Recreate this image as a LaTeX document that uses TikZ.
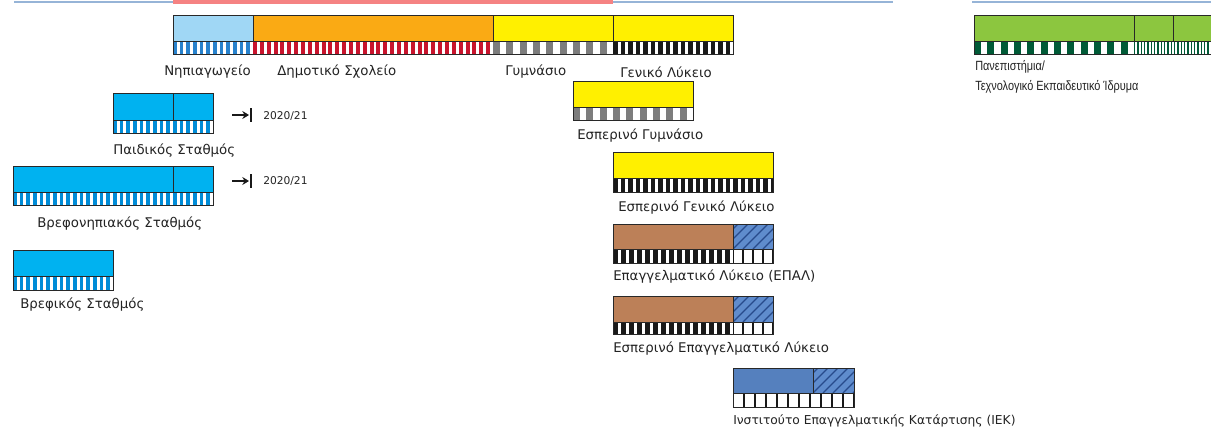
\documentclass[tikz,border=0pt]{standalone}
\usepackage{fontspec}
\setmainfont[FakeStretch=0.82]{Liberation Sans}
\newfontfamily\widefont{DejaVu Sans}
\usetikzlibrary{arrows.meta}
\definecolor{nipfill}{RGB}{160,215,245}
\definecolor{nipstripe}{RGB}{40,130,205}
\definecolor{orangefill}{RGB}{250,170,20}
\definecolor{redstripe}{RGB}{200,20,45}
\definecolor{yel}{RGB}{255,240,0}
\definecolor{greystripe}{RGB}{125,125,125}
\definecolor{blk}{RGB}{25,25,25}
\definecolor{sky}{RGB}{0,178,240}
\definecolor{skystripe}{RGB}{0,140,215}
\definecolor{grn}{RGB}{140,198,63}
\definecolor{dgrn}{RGB}{0,90,55}
\definecolor{brownfill}{RGB}{188,128,88}
\definecolor{hatchbg}{RGB}{95,140,205}
\definecolor{hatchln}{RGB}{40,75,140}
\definecolor{iekfill}{RGB}{85,128,190}
\definecolor{boxline}{RGB}{40,40,40}
\definecolor{txt}{RGB}{35,35,35}
\definecolor{pinkline}{RGB}{245,130,130}
\definecolor{blueline}{RGB}{150,180,215}
% stripes: x0 x1 ytop ybot period barwidth colour
\newcommand\stripebar[7]{%
  \begin{scope}
    \clip (#1,#3) rectangle (#2,#4);
    \fill[white] (#1,#3) rectangle (#2,#4);
    \pgfmathtruncatemacro\nn{(#2-#1)/#5+1}
    \foreach \i in {0,...,\nn} {\fill[#7] ({#1+\i*#5},#3) rectangle ({#1+\i*#5+#6},#4);}
  \end{scope}}
% cells: x0 x1 ytop ybot period
\newcommand\cellbar[5]{%
  \begin{scope}
    \clip (#1,#3) rectangle (#2,#4);
    \fill[white] (#1,#3) rectangle (#2,#4);
    \pgfmathtruncatemacro\nn{(#2-#1)/#5+1}
    \foreach \i in {0,...,\nn} {\draw[blk, line width=0.9pt] ({#1+\i*#5},#3) -- ({#1+\i*#5},#4);}
  \end{scope}}
% hatch: x0 x1 ytop ybot
\newcommand\hatchbox[4]{%
  \begin{scope}
    \clip (#1,#3) rectangle (#2,#4);
    \fill[hatchbg] (#1,#3) rectangle (#2,#4);
    \foreach \i in {-3,...,6} {\draw[hatchln, line width=1pt] ({#1+\i*10},#4) -- ++(26,-26);}
  \end{scope}}
\begin{document}
\begin{tikzpicture}[x=0.75pt,y=-0.75pt,
  lbl/.style={anchor=west, inner sep=0pt, font=\widefont\fontsize{10}{12}\selectfont, text=txt},
  unilbl/.style={anchor=west, inner sep=0pt, font=\fontsize{10}{12}\selectfont, text=txt},
  yr/.style={anchor=west, inner sep=0pt, font=\widefont\fontsize{8}{9}\selectfont, text=txt},
  box/.style={draw=boxline, line width=0.75pt},
  divline/.style={draw=boxline, line width=0.75pt}]
\useasboundingbox (0,0) rectangle (1211,430);
\fill[white] (0,0) rectangle (1211,430);
% top lines
\coordinate (l1a) at (14,2); \coordinate (l1b) at (173,2);
\coordinate (l2b) at (613,2); \coordinate (l3b) at (893,2);
\coordinate (l4a) at (972,2); \coordinate (l4b) at (1211,2);
\draw[blueline, line width=1.6pt] (l1a) -- (l1b);
\draw[pinkline, line width=3.2pt] (l1b) -- (l2b);
\draw[blueline, line width=1.6pt] (l2b) -- (l3b);
\draw[blueline, line width=1.6pt] (l4a) -- (l4b);
% main bar
\fill[nipfill] (173,15) rectangle (253,41);
\fill[orangefill] (253,15) rectangle (493,41);
\fill[yel] (493,15) rectangle (733,41);
\stripebar{173}{253}{41}{54}{6.667}{3.6}{nipstripe}
\stripebar{253}{493}{41}{54}{6.857}{4}{redstripe}
\stripebar{493}{613}{41}{54}{13.333}{7}{greystripe}
\stripebar{613}{733}{41}{54}{7.5}{4.5}{blk}
\draw[box] (173,15) rectangle (733,54);
\draw[divline] (173,41) -- (733,41);
\draw[divline] (253,15) -- (253,41);
\draw[divline] (493,15) -- (493,41);
\draw[divline] (613,15) -- (613,41);
\node[lbl] (nip) at (164,72) {Νηπιαγωγείο};
\node[lbl] (dim) at (277,72) {Δημοτικό Σχολείο};
\node[lbl] (gym) at (505,72) {Γυμνάσιο};
\node[lbl] (gel) at (620,72) {Γενικό Λύκειο};
% university
\fill[grn] (974,15) rectangle (1211,41);
\stripebar{974}{1134}{41}{54}{13.333}{7}{dgrn}
\stripebar{1134}{1211}{41}{54}{3.333}{1.4}{dgrn}
\draw[box] (1211,15) -- (974,15) -- (974,54) -- (1211,54);
\draw[divline] (974,41) -- (1211,41);
\draw[divline] (1134,15) -- (1134,41);
\draw[divline] (1173,15) -- (1173,41);
\node[unilbl] (uni1) at (975,67) {Πανεπιστήμια/};
\node[unilbl] (uni2) at (975,87) {Τεχνολογικό Εκπαιδευτικό Ίδρυμα};
% Paidikos Stathmos
\fill[sky] (113,93) rectangle (213,120);
\stripebar{113}{213}{120}{133}{6.667}{3.8}{skystripe}
\draw[box] (113,93) rectangle (213,133);
\draw[divline] (113,120) -- (213,120);
\draw[divline] (173,93) -- (173,120);
\node[lbl] (paid) at (113,151) {Παιδικός Σταθμός};
\coordinate (a1s) at (232,115); \coordinate (a1e) at (249,115);
\draw[blk, line width=1.6pt, -{Stealth[length=5pt,width=6pt]}] (a1s) -- (a1e);
\draw[blk, line width=1.6pt] (251,108) -- (251,122);
\node[yr] (yr1) at (263,116) {2020/21};
% Vrefonipiakos
\fill[sky] (13,166) rectangle (213,192);
\stripebar{13}{213}{192}{205}{6.667}{3.8}{skystripe}
\draw[box] (13,166) rectangle (213,205);
\draw[divline] (13,192) -- (213,192);
\draw[divline] (173,166) -- (173,192);
\node[lbl] (vref) at (37,224) {Βρεφονηπιακός Σταθμός};
\coordinate (a2s) at (232,181); \coordinate (a2e) at (249,181);
\draw[blk, line width=1.6pt, -{Stealth[length=5pt,width=6pt]}] (a2s) -- (a2e);
\draw[blk, line width=1.6pt] (251,174) -- (251,188);
\node[yr] (yr2) at (263,181) {2020/21};
% Vrefikos
\fill[sky] (13,250) rectangle (113,276);
\stripebar{13}{113}{276}{290}{6.667}{3.8}{skystripe}
\draw[box] (13,250) rectangle (113,290);
\draw[divline] (13,276) -- (113,276);
\node[lbl] (vrefik) at (20,305) {Βρεφικός Σταθμός};
% Esperino Gymnasio
\fill[yel] (573,81) rectangle (693,107);
\stripebar{573}{693}{107}{120}{13.333}{7}{greystripe}
\draw[box] (573,81) rectangle (693,120);
\draw[divline] (573,107) -- (693,107);
\node[lbl] (egym) at (577,136) {Εσπερινό Γυμνάσιο};
% Esperino Geniko Lykeio
\fill[yel] (613,152) rectangle (773,178);
\stripebar{613}{773}{178}{192}{7.5}{4.5}{blk}
\draw[box] (613,152) rectangle (773,192);
\draw[divline] (613,178) -- (773,178);
\node[lbl] (egel) at (618,208) {Εσπερινό Γενικό Λύκειο};
% EPAL
\fill[brownfill] (613,224) rectangle (733,249);
\hatchbox{733}{773}{224}{249}
\stripebar{613}{733}{249}{263}{8}{5}{blk}
\cellbar{733}{773}{249}{263}{10}
\draw[box] (613,224) rectangle (773,263);
\draw[divline] (613,249) -- (773,249);
\draw[divline] (733,224) -- (733,249);
\node[lbl] (epal) at (613,277) {Επαγγελματικό Λύκειο (ΕΠΑΛ)};
% Esperino EPAL
\fill[brownfill] (613,296) rectangle (733,322);
\hatchbox{733}{773}{296}{322}
\stripebar{613}{733}{322}{334}{8}{5}{blk}
\cellbar{733}{773}{322}{334}{10}
\draw[box] (613,296) rectangle (773,334);
\draw[divline] (613,322) -- (773,322);
\draw[divline] (733,296) -- (733,322);
\node[lbl] (eepal) at (613,349) {Εσπερινό Επαγγελματικό Λύκειο};
% IEK
\fill[iekfill] (733,368) rectangle (813,393);
\hatchbox{813}{854}{368}{393}
\cellbar{733}{854}{393}{407}{11}
\draw[box] (733,368) rectangle (854,407);
\draw[divline] (733,393) -- (854,393);
\draw[divline] (813,368) -- (813,393);
\node[lbl, font=\widefont\fontsize{9.2}{11}\selectfont] (iek) at (733,421) {Ινστιτούτο Επαγγελματικής Κατάρτισης (ΙΕΚ)};
\end{tikzpicture}
\end{document}
